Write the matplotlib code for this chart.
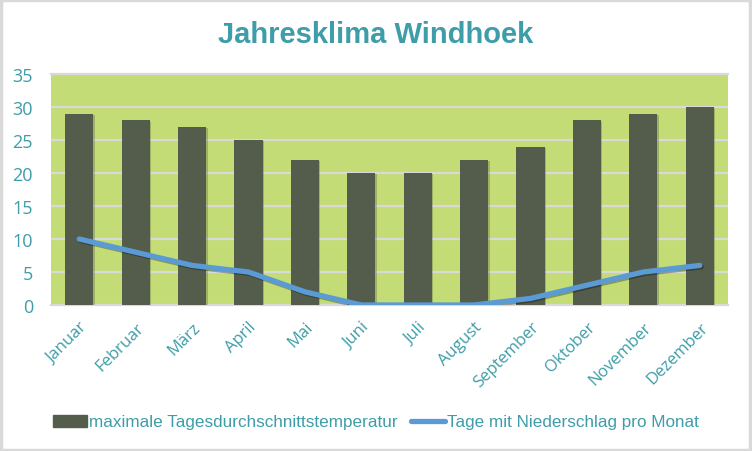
import numpy as np
import matplotlib.pyplot as plt
import matplotlib.patheffects as pe
from matplotlib.patches import Rectangle, Patch
from matplotlib.lines import Line2D

# data
months = ['Januar', 'Februar', 'März', 'April', 'Mai', 'Juni', 'Juli',
          'August', 'September', 'Oktober', 'November', 'Dezember']
max_temp = [29, 28, 27, 25, 22, 20, 20, 22, 24, 28, 29, 30]
rain_days = [10, 8, 6, 5, 2, 0, 0, 0, 1, 3, 5, 6]

teal = '#3E9DA8'
bar_col = '#545C4B'
line_col = '#5B9BD5'
grid_col = '#D9D9D9'

fig = plt.figure(figsize=(7.52, 4.52), dpi=100)
ax = fig.add_axes([51/752, 1 - 306/452, 677/752, 231/452])
ax.set_facecolor('#C4DC76')

x = np.arange(len(months))
shadow = [pe.SimplePatchShadow(offset=(1, -1), shadow_rgbFace='#333333', alpha=0.25), pe.Normal()]
bars = ax.bar(x, max_temp, width=0.5, color=bar_col, zorder=3)
for b in bars:
    b.set_path_effects(shadow)
ax.plot(x, rain_days, color=line_col, lw=3.8, solid_capstyle='round', zorder=4,
        path_effects=[pe.SimpleLineShadow(offset=(1, -1), alpha=0.3), pe.Normal()])

ax.set_xlim(-0.5, len(months) - 0.5)
ax.set_ylim(0, 35)
ax.set_yticks(range(0, 36, 5))
ax.yaxis.grid(True, color=grid_col, lw=1.6, zorder=1)
ax.set_axisbelow(True)
for s in ['left', 'right']:
    ax.spines[s].set_visible(False)
for s in ['top', 'bottom']:
    ax.spines[s].set_color(grid_col)
    ax.spines[s].set_linewidth(1.6)
ax.tick_params(length=0)
ax.tick_params(axis='y', pad=13, labelsize=13, labelcolor=teal)
ax.set_xticks(x)
ax.set_xticklabels(months, rotation=45, ha='right', rotation_mode='anchor',
                   fontsize=12, color=teal, family=['Open Sans', 'DejaVu Sans'])
for t in ax.get_yticklabels():
    t.set_family(['Open Sans', 'DejaVu Sans'])
ax.tick_params(axis='x', pad=10)

fig.text(0.5, 1 - 35/452, 'Jahresklima Windhoek', ha='center', va='center',
         fontsize=21, fontweight='bold', color=teal, family=['Liberation Sans', 'DejaVu Sans'])

handles = [Patch(color=bar_col), Line2D([], [], color=line_col, lw=3.8, solid_capstyle='round')]
labels = ['maximale Tagesdurchschnittstemperatur', 'Tage mit Niederschlag pro Monat']
fig.legend(handles, labels, loc='center', bbox_to_anchor=(0.5, 1 - 423/452), ncol=2,
           frameon=False, handlelength=2.0, handletextpad=0.1, columnspacing=0.8,
           prop={'family': ['Liberation Sans Narrow', 'Liberation Sans'], 'size': 12.3},
           labelcolor=teal)

# light grey chart border
fig.patches.append(Rectangle((0.001, 0.003), 0.996, 0.994, transform=fig.transFigure,
                             fill=False, edgecolor='#D9D9D9', lw=2.5))

fig.savefig('out.png', dpi=100)
